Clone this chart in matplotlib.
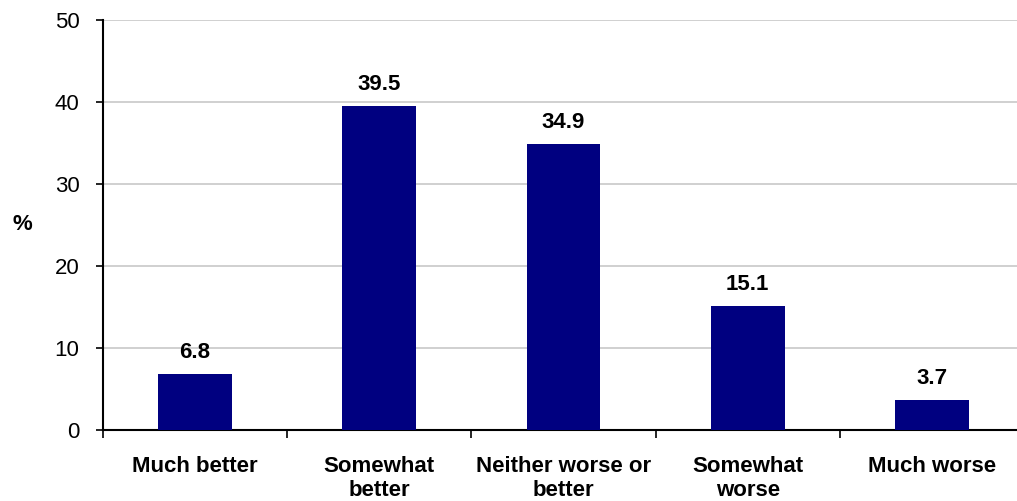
import matplotlib.pyplot as plt

plt.rcParams['font.family'] = ['Liberation Sans', 'DejaVu Sans']

categories = ['Much better', 'Somewhat\nbetter', 'Neither worse or\nbetter', 'Somewhat\nworse', 'Much worse']
values = [6.8, 39.5, 34.9, 15.1, 3.7]
yticks = [0, 10, 20, 30, 40, 50]

fig = plt.figure(figsize=(10.17, 5.01), dpi=100)
# axes runs a little past the right edge, like the original
ax = fig.add_axes([103 / 1017, 71 / 501, 921 / 1017, 410 / 501])

x = list(range(len(categories)))
ax.bar(x, values, width=0.4, color='#000080', zorder=3)

for xi, v in zip(x, values):
    ax.annotate(f'{v:.1f}', (xi, v), xytext=(0, 8), textcoords='offset points',
                ha='center', va='bottom', fontsize=16, fontweight='bold')

ax.set_xlim(-0.5, len(categories) - 0.5)
ax.set_ylim(0, 50)
ax.set_yticks(yticks)
ax.tick_params(axis='y', labelsize=16, length=5, width=1.2, pad=12, direction='out')
ax.yaxis.grid(True, color='#c8c8c8', linewidth=1.2, zorder=0)
ax.set_axisbelow(True)

# category ticks sit between bars, labels centred under bars
ax.set_xticks([i + 0.5 for i in range(-1, len(categories))])
ax.set_xticklabels([])
ax.set_xticks(x, minor=True)
ax.set_xticklabels(categories, minor=True, fontsize=16, fontweight='bold', linespacing=1.15)
ax.tick_params(axis='x', which='major', length=6, width=1.2, direction='out')
ax.tick_params(axis='x', which='minor', length=0, pad=19)

for s in ['top', 'right']:
    ax.spines[s].set_visible(False)
ax.spines['left'].set_linewidth(1.5)
ax.spines['bottom'].set_linewidth(1.5)

fig.text(22 / 1017, 1 - 225 / 501, '%', ha='center', va='center', fontsize=16, fontweight='bold')

plt.savefig('out.png', dpi=100)
